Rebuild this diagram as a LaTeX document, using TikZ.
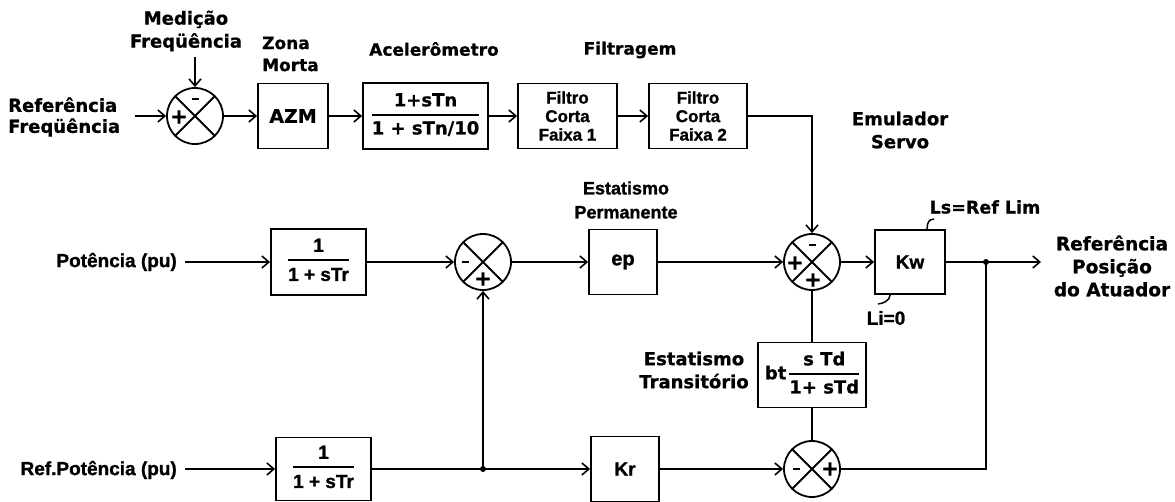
\documentclass[tikz,border=0pt]{standalone}
\usepackage{fontspec}
\setmainfont{Liberation Sans}[BoldFeatures={FakeBold=1.2}]
\newfontfamily\dvs{DejaVu Sans}[BoldFeatures={FakeBold=0.8}]
\usetikzlibrary{arrows.meta,calc}
\newcommand\fwd[2]{\dvs\bfseries\fontsize{#1}{#2}\selectfont}
\newcommand\fnr[2]{\bfseries\fontsize{#1}{#2}\selectfont}
\newcommand\frc[2]{\setlength{\arrayrulewidth}{1.6pt}\begin{tabular}{@{}c@{}}#1\\[1pt]\hline\rule{0pt}{1.05em}#2\end{tabular}}
\newcommand\mns{\rule{7pt}{2.8pt}}
\tikzset{
  blk/.style={draw, line width=1.8pt, inner sep=0pt, align=center},
  sumx/.style={circle, draw, line width=1.8pt, minimum size=56pt, inner sep=0pt,
    path picture={\draw[line width=1.8pt] (path picture bounding box.north west) -- (path picture bounding box.south east)
      (path picture bounding box.north east) -- (path picture bounding box.south west);}},
  sgn/.style={font={\fwd{21}{22}}, inner sep=0pt},
  con/.style={line width=2.2pt, -{Straight Barb[length=7pt,width=12pt,line width=1.6pt]}},
  lin/.style={line width=2.2pt},
  hk/.style={line width=1.5pt},
  dot/.style={circle, fill, inner sep=0pt, minimum size=6pt},
  lblw/.style={inner sep=0pt, align=center, font={\fwd{18}{23}}},
  lbln/.style={inner sep=0pt, align=center, font={\fnr{18}{24}}}
}
\begin{document}
\begin{tikzpicture}[x=1pt,y=-1pt]
\path[fill=white,use as bounding box] (0,0) rectangle (1175,502);

% ---- top row ----
\node[lblw, align=left, anchor=west, font={\fwd{18}{21}}] (refF) at (8,117) {Referência\\Freqüência};
\coordinate (cin1) at (135,116);
\node[sumx] (s1) at (195,116) {};
\node[sgn] (s1a) at ($(s1)+(0,-17)$) {\mns};
\node[sgn] (s1b) at ($(s1)+(-16,1)$) {+};
\node[lblw] (medF) at (186,31) {Medição\\Freqüência};
\node[lblw, align=left, anchor=west, font={\fwd{17}{22}}] (zona) at (262,54) {Zona\\Morta};
\node[blk, minimum width=70pt, minimum height=65pt, font={\fwd{19}{24}}] (azm) at (293,116) {AZM};
\node[lblw, font={\fwd{17}{20}}] (accL) at (434,49) {Acelerômetro};
\node[blk, minimum width=125pt, minimum height=66pt, font={\fwd{18}{22}}] (acc) at (425.5,116) {\frc{1+sTn}{1 + sTn/10}};
\node[lblw, font={\fwd{17}{20}}] (filL) at (630,50) {Filtragem};
\node[blk, minimum width=99pt, minimum height=65pt, font={\fnr{17}{18.5}}] (f1) at (567.5,116) {Filtro\\Corta\\Faixa 1};
\node[blk, minimum width=98pt, minimum height=65pt, font={\fnr{17}{18.5}}] (f2) at (698,116) {Filtro\\Corta\\Faixa 2};
\node[lblw] (emu) at (900,130) {Emulador\\Servo};

% ---- middle row ----
\node[lbln, anchor=east, font={\fnr{19}{22}}] (potT) at (177,262) {Potência (pu)};
\coordinate (cin2) at (185,262);
\node[blk, minimum width=95pt, minimum height=66pt, font={\fnr{19}{22}}] (tr1) at (318.5,262) {\frc{1}{1 + sTr}};
\node[sumx] (s2) at (483,262) {};
\node[sgn] (s2a) at ($(s2)+(-18,0)$) {\mns};
\node[sgn] (s2b) at ($(s2)+(0,17)$) {+};
\node[lbln] (estP) at (626,200) {Estatismo\\Permanente};
\node[blk, minimum width=68pt, minimum height=65pt, font={\fnr{20}{22}}] (ep) at (623,262) {ep};
\node[sumx] (s3) at (812,262) {};
\node[sgn] (s3a) at ($(s3)+(0,-17)$) {\mns};
\node[sgn] (s3b) at ($(s3)+(-17,1)$) {+};
\node[sgn] (s3c) at ($(s3)+(1,18)$) {+};
\node[blk, minimum width=70pt, minimum height=64pt, font={\fnr{19}{20}}] (kw) at (910,262) {Kw};
\node[lblw, font={\fwd{17.5}{20}}] (lsL) at (985,207) {Ls=Ref Lim};
\node[lbln, font={\fnr{19}{22}}] (liL) at (886,318) {Li=0};
\coordinate (j2) at (986,262);
\coordinate (cout) at (1041,262);
\node[lblw, font={\fwd{18.5}{23}}] (refP) at (1112,266) {Referência\\Posição\\do Atuador};

% ---- transient droop ----
\node[lblw] (estT) at (694,370) {Estatismo\\Transitório};
\node[blk, minimum width=108pt, minimum height=65pt, font={\fwd{18}{22}}] (bt) at (812,375) {bt\,\frc{s Td}{1+ sTd}};

% ---- bottom row ----
\node[lbln, anchor=east, font={\fnr{19}{22}}] (rpT) at (177,470) {Ref.Potência (pu)};
\coordinate (cin3) at (185,469);
\node[blk, minimum width=95pt, minimum height=63pt, font={\fnr{19}{22}}] (tr2) at (323.5,469) {\frc{1}{1 + sTr}};
\node[dot] (j1) at (483,469) {};
\node[blk, minimum width=68pt, minimum height=65pt, font={\fnr{19}{20}}] (kr) at (625,469) {Kr};
\node[sumx] (s4) at (812,469) {};
\node[sgn] (s4a) at ($(s4)+(-16,0)$) {\mns};
\node[sgn] (s4b) at ($(s4)+(18,0)$) {+};

% ---- connectors ----
\draw[con] (cin1) -- (s1.west);
\draw[con] (s1 |- medF.south) ++(0,5) -- (s1.north);
\draw[con] (s1.east) -- (azm.west);
\draw[con] (azm.east) -- (acc.west);
\draw[con] (acc.east) -- (f1.west);
\draw[con] (f1.east) -- (f2.west);
\draw[con] (f2.east) -| (s3.north);
\draw[con] (cin2) -- (tr1.west);
\draw[con] (tr1.east) -- (s2.west);
\draw[con] (s2.east) -- (ep.west);
\draw[con] (ep.east) -- (s3.west);
\draw[con] (s3.east) -- (kw.west);
\draw[con] (kw.east) -- (cout);
\draw[lin] (j2) |- (s4.east);
\node[dot] (j2d) at (j2) {};
\draw[lin] (s4.north) -- (bt.south);
\draw[lin] (bt.north) -- (s3.south);
\draw[con] (cin3) -- (tr2.west);
\draw[con] (tr2.east) -- (kr.west);
\draw[con] (j1.center) -- (s2.south);
\draw[con] (kr.east) -- (s4.west);

% ---- limit hooks ----
\draw[hk] ($(kw.north west)+(53,0)$) .. controls +(0,-7) and +(-5,0) .. ($(kw.north west)+(60,-10)$);
\draw[hk] ($(kw.south west)+(16,0)$) .. controls +(0,6) and +(4,0) .. ($(kw.south west)+(4,9)$);
\end{tikzpicture}
\end{document}
